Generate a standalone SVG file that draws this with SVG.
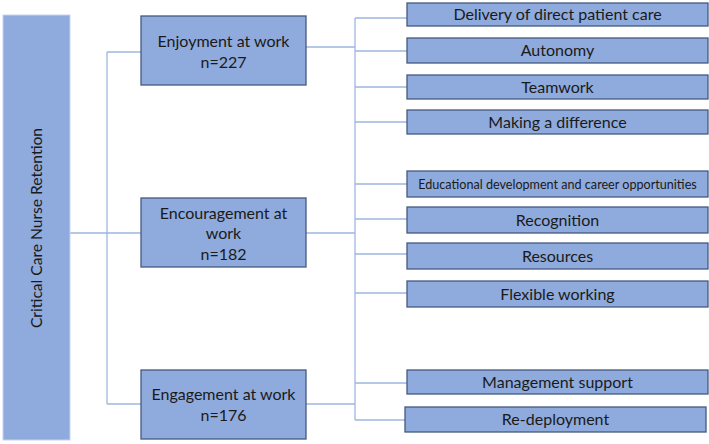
<svg xmlns="http://www.w3.org/2000/svg" width="709" height="444" viewBox="0 0 709 444">
<style>
.box{fill:#8faadc;stroke:#44597f;stroke-width:1.3}
.root{fill:#8faadc;stroke:#c7d4ee;stroke-width:1}
.t{font-family:Lato,"Liberation Sans",sans-serif;font-size:16px;fill:#1a1a1a;text-anchor:middle}
.s{font-size:12.6px}
.r{font-size:15.6px}
.c{fill:none;stroke:#9fb6df;stroke-width:1.3}
</style>
<rect width="709" height="444" fill="#fff"/>
<g id="connectors">
<path class="c" d="M70,233 H107 M107,52 V404 M107,52 H141 M107,233 H141 M107,404 H141"/>
<path class="c" d="M306,47 H355 M306,233 H355 M306,404 H355 M355,18 V420"/>
<path class="c" d="M355,18 H407 M355,51 H407 M355,87 H407 M355,122 H407 M355,184 H407 M355,219 H407 M355,254 H407 M355,293 H407 M355,383 H407 M355,420 H405"/>
</g>
<g id="root"><rect class="root" x="3" y="15" width="67" height="425"/><text class="t r" transform="translate(42,228) rotate(-90)">Critical Care Nurse Retention</text></g>
<g id="enjoyment"><rect class="box" x="141" y="16" width="165" height="69"/><text class="t" x="223.5" y="47">Enjoyment at work</text><text class="t" x="223.5" y="68">n=227</text></g>
<g id="encouragement"><rect class="box" x="141" y="198" width="165" height="69"/><text class="t" x="223.5" y="219">Encouragement at</text><text class="t" x="223.5" y="239">work</text><text class="t" x="223.5" y="260">n=182</text></g>
<g id="engagement"><rect class="box" x="141" y="370" width="165" height="69"/><text class="t" x="223.5" y="400">Engagement at work</text><text class="t" x="223.5" y="421">n=176</text></g>
<g id="delivery"><rect class="box" x="407" y="3" width="301" height="23"/><text class="t" x="557.5" y="20">Delivery of direct patient care</text></g>
<g id="autonomy"><rect class="box" x="407" y="38" width="301" height="25"/><text class="t" x="557.5" y="56">Autonomy</text></g>
<g id="teamwork"><rect class="box" x="407" y="75" width="301" height="24"/><text class="t" x="557.5" y="93">Teamwork</text></g>
<g id="difference"><rect class="box" x="407" y="110" width="301" height="24"/><text class="t" x="557.5" y="128">Making a difference</text></g>
<g id="educational"><rect class="box" x="407" y="171" width="301" height="26"/><text class="t s" x="557.5" y="189">Educational development and career opportunities</text></g>
<g id="recognition"><rect class="box" x="407" y="207" width="301" height="26"/><text class="t" x="557.5" y="226">Recognition</text></g>
<g id="resources"><rect class="box" x="407" y="243" width="301" height="26"/><text class="t" x="557.5" y="262">Resources</text></g>
<g id="flexible"><rect class="box" x="407" y="281" width="301" height="26"/><text class="t" x="557.5" y="300">Flexible working</text></g>
<g id="management"><rect class="box" x="407" y="370" width="301" height="24"/><text class="t" x="557.5" y="388">Management support</text></g>
<g id="redeployment"><rect class="box" x="405" y="407" width="301" height="25"/><text class="t" x="555.5" y="425">Re-deployment</text></g>
</svg>
